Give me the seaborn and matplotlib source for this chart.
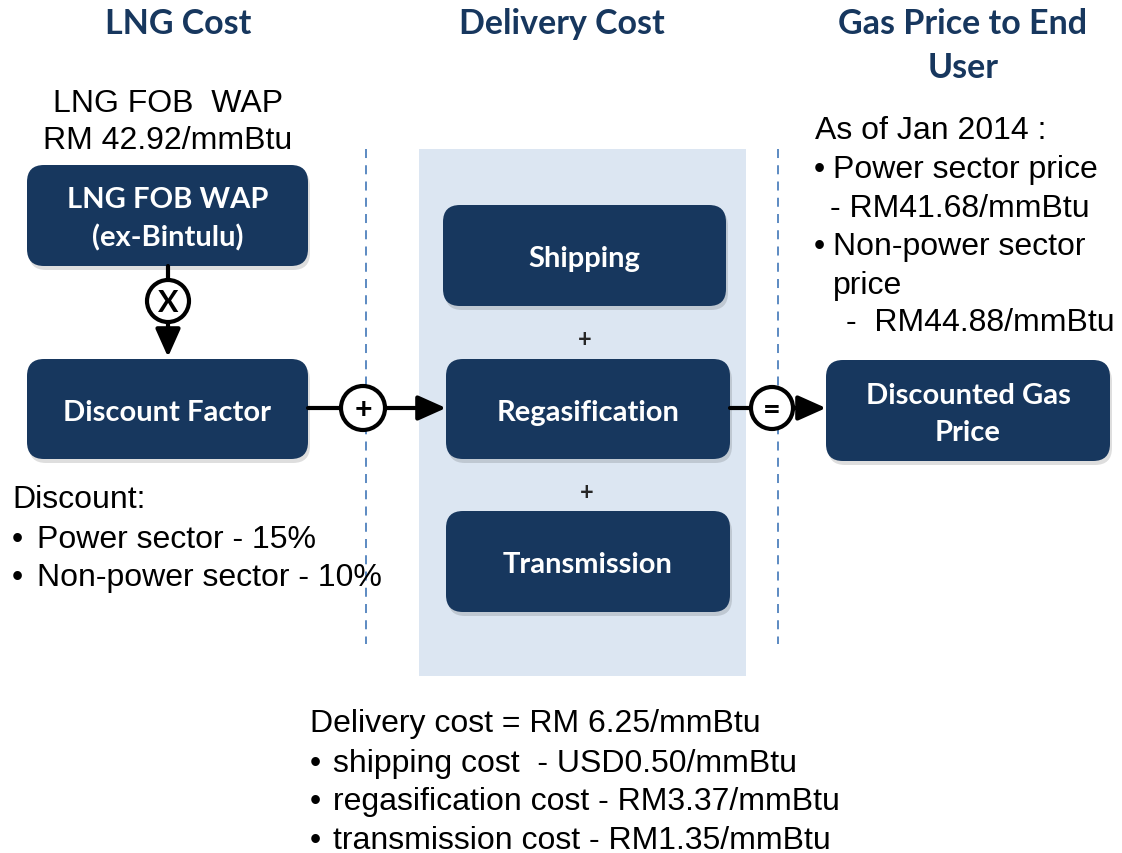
import matplotlib
matplotlib.use("Agg")
import matplotlib.pyplot as plt
import seaborn as sns
from matplotlib.patches import FancyBboxPatch, Rectangle, Circle, FancyArrowPatch

sns.set_style("white")
plt.rcParams['font.family'] = ['Liberation Sans', 'DejaVu Sans']

# ---- content ----
headers = ["LNG Cost", "Delivery Cost", "Gas Price to End\nUser"]
lng_label = ["LNG FOB  WAP", "RM 42.92/mmBtu"]
box_labels = ["LNG FOB WAP\n(ex-Bintulu)", "Discount Factor", "Shipping",
              "Regasification", "Transmission", "Discounted Gas\nPrice"]
operators = ["X", "+", "="]
discount_title = "Discount:"
discount_items = ["Power sector - 15%", "Non-power sector - 10%"]
price_title = "As of Jan 2014 :"
delivery_title = "Delivery cost = RM 6.25/mmBtu"
delivery_items = ["shipping cost  - USD0.50/mmBtu",
                  "regasification cost - RM3.37/mmBtu",
                  "transmission cost - RM1.35/mmBtu"]

NAVY = "#17375e"
W, H = 1122, 854
fig = plt.figure(figsize=(W / 100, H / 100), dpi=100)
ax = fig.add_axes([0, 0, 1, 1])
ax.set_xlim(0, W)
ax.set_ylim(H, 0)
ax.axis("off")

BOX_FONT = dict(family=["Lato", "DejaVu Sans"], weight="bold", color="white",
                fontsize=21, ha="center", va="center", linespacing=1.5)
BODY = dict(fontsize=23, color="black", va="center")
HEAD = dict(fontsize=24.5, family=["Lato", "DejaVu Sans"], weight="bold",
            color=NAVY, ha="center", va="center")

# shaded delivery panel
ax.add_patch(Rectangle((419, 150), 327, 527, facecolor="#dce6f2", edgecolor="none", zorder=0))

# dashed separators
for x in (366, 778):
    ax.plot([x, x], [150, 645], color="#4f81bd", lw=1.3, dashes=(5, 4), zorder=1)

# headers
ax.text(178, 24, headers[0], **HEAD)
ax.text(562, 24, headers[1], **HEAD)
ax.text(963, 24, headers[2].split("\n")[0], **HEAD)
ax.text(963, 68, headers[2].split("\n")[1], **HEAD)

# LNG label
ax.text(168, 104, lng_label[0], ha="center", **BODY)
ax.text(168, 141, lng_label[1], ha="center", **BODY)

# boxes (x0, y0, x1, y1)
boxes = [(27, 166, 308, 267), (27, 360, 308, 460), (443, 206, 726, 307),
         (446, 360, 730, 460), (446, 512, 730, 613), (826, 361, 1110, 462)]
for (x0, y0, x1, y1), lab in zip(boxes, box_labels):
    sh = FancyBboxPatch((x0 + 2, y0 + 4), x1 - x0, y1 - y0,
                        boxstyle="round,pad=0,rounding_size=17",
                        facecolor="#000000", alpha=0.13, edgecolor="none", zorder=2)
    ax.add_patch(sh)
    b = FancyBboxPatch((x0, y0), x1 - x0, y1 - y0,
                       boxstyle="round,pad=0,rounding_size=17",
                       facecolor=NAVY, edgecolor="none", zorder=3)
    ax.add_patch(b)
    ax.text((x0 + x1) / 2, (y0 + y1) / 2 + 3, lab, zorder=4, **BOX_FONT)

# connectors
LW = 3.0
def arrow(p0, p1):
    a = FancyArrowPatch(p0, p1, arrowstyle="-|>,head_length=0.85,head_width=0.38",
                        mutation_scale=20, lw=LW, color="black", zorder=5,
                        shrinkA=0, shrinkB=0)
    ax.add_patch(a)

def op_circle(cx, cy, sym, r=22):
    ax.add_patch(Circle((cx, cy), r, facecolor="white", edgecolor="black", lw=LW, zorder=6))
    ax.text(cx, cy + 1, sym, zorder=7, ha="center", va="center", fontsize=22,
            weight="bold", family=["Lato", "DejaVu Sans"], color="black")

# X between box 1 and 2
ax.plot([168, 168], [267, 282], color="black", lw=LW, zorder=5)
arrow((168, 322), (168, 358))
op_circle(168, 302, operators[0], r=21)

# + between discount and regas
ax.plot([308, 342], [409, 409], color="black", lw=LW, zorder=5)
arrow((385, 409), (446, 409))
op_circle(363, 409, operators[1], r=22)

# = between regas and discounted price
ax.plot([730, 752], [409, 409], color="black", lw=LW, zorder=5)
arrow((793, 409), (826, 409))
op_circle(772, 409, operators[2], r=21)

# plus signs between delivery boxes
ax.text(585, 340, "+", ha="center", va="center", fontsize=17, weight="bold",
        family=["Lato", "DejaVu Sans"])
ax.text(587, 493, "+", ha="center", va="center", fontsize=17, weight="bold",
        family=["Lato", "DejaVu Sans"])

# right text
ax.text(815, 131, price_title, ha="left", **BODY)
ax.text(814, 170, "\u2022", ha="left", **BODY)
ax.text(833, 170, "Power sector price", ha="left", **BODY)
ax.text(830, 209, "- RM41.68/mmBtu", ha="left", **BODY)
ax.text(814, 247, "\u2022", ha="left", **BODY)
ax.text(833, 247, "Non-power sector", ha="left", **BODY)
ax.text(833, 286, "price", ha="left", **BODY)
ax.text(846, 323, "-  RM44.88/mmBtu", ha="left", **BODY)

# left text
ax.text(12, 500, discount_title, ha="left", **BODY)
for i, item in enumerate(discount_items):
    y = 540 + 38 * i
    ax.text(12, y, "\u2022", ha="left", **BODY)
    ax.text(37, y, item, ha="left", **BODY)

# bottom text
ax.text(310, 724, delivery_title, ha="left", **BODY)
for i, item in enumerate(delivery_items):
    y = 764 + 38.5 * i
    ax.text(310, y, "\u2022", ha="left", **BODY)
    ax.text(333, y, item, ha="left", **BODY)

fig.savefig("out.png", dpi=100, facecolor="white")
